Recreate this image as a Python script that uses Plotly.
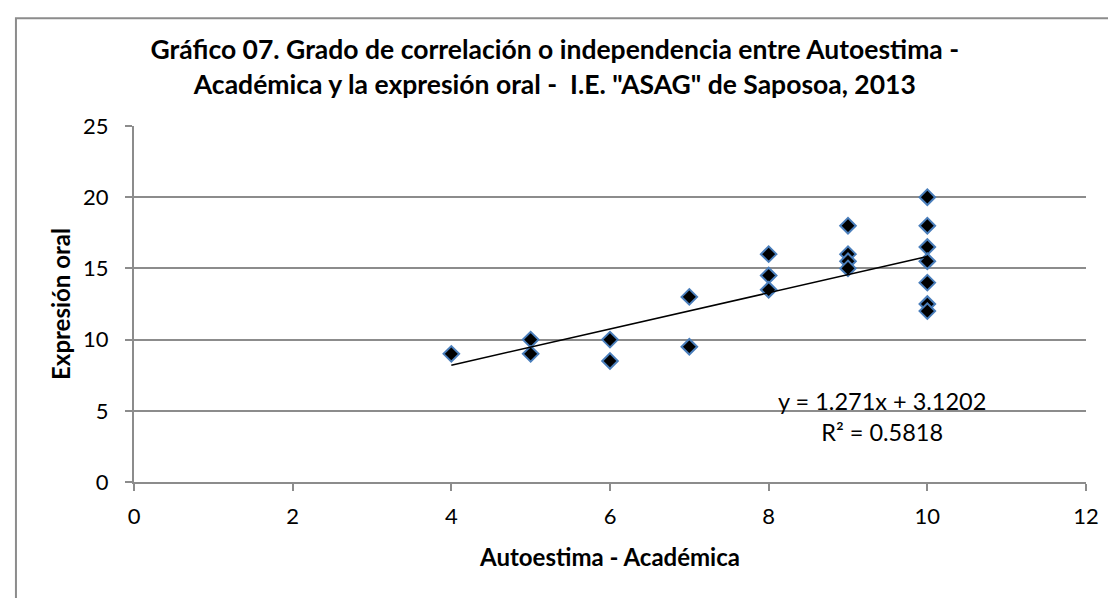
import plotly.graph_objects as go

# Data
autoestima = [4, 5, 5, 6, 6, 7, 7, 8, 8, 8, 9, 9, 9, 9, 10, 10, 10, 10, 10, 10, 10]
expresion = [9, 10, 9, 10, 8.5, 13, 9.5, 16, 14.5, 13.5, 18, 16, 15.5, 15, 20, 18, 16.5, 15.5, 14, 12.5, 12]
trend_slope = 1.271
trend_intercept = 3.1202
r_squared = 0.5818

title_text = ('Gráfico 07. Grado de correlación o independencia entre Autoestima -<br>'
              'Académica y la expresión oral -  I.E. "ASAG" de Saposoa, 2013')

x_min, x_max = min(autoestima), max(autoestima)
trend_x = [x_min, x_max]
trend_y = [trend_slope * v + trend_intercept for v in trend_x]

FONT = "Lato"
GRID = "#8c8c8c"

fig = go.Figure()
fig.add_trace(go.Scatter(
    x=autoestima, y=expresion, mode="markers",
    marker=dict(symbol="diamond", size=12, color="black",
                line=dict(color="#4A7EBB", width=2)),
    showlegend=False, hoverinfo="x+y"))
fig.add_trace(go.Scatter(
    x=trend_x, y=trend_y, mode="lines",
    line=dict(color="black", width=1.6), showlegend=False))

fig.update_layout(
    width=1116, height=598,
    paper_bgcolor="white", plot_bgcolor="white",
    margin=dict(l=126, r=38, t=118, b=124),
    font=dict(family=FONT, color="black", size=22),
    title=dict(text="<b>" + title_text + "</b>", x=0.490, xanchor="center",
               y=0.914, yanchor="middle",
               font=dict(family=FONT, size=26.5, color="black")),
    xaxis=dict(range=[0, 12], dtick=2, showgrid=False, zeroline=False,
               showline=True, linecolor=GRID, linewidth=2,
               ticks="outside", ticklen=7, tickcolor=GRID, tickwidth=2,
               ticklabelstandoff=7,
               tickfont=dict(size=22, family=FONT),
               title=dict(text="<b>Autoestima - Académica</b>", standoff=21,
                          font=dict(size=24, family=FONT))),
    yaxis=dict(range=[0, 25], dtick=5, showgrid=True, gridcolor=GRID, gridwidth=2,
               zeroline=False, showline=True, linecolor=GRID, linewidth=2,
               ticks="outside", ticklen=7, tickcolor=GRID, tickwidth=2,
               ticklabelstandoff=12,
               tickfont=dict(size=22, family=FONT),
               title=dict(text="<b>Expresión oral</b>", standoff=6,
                          font=dict(size=24, family=FONT))),
)

# Trendline equation label
fig.add_annotation(x=9.43, y=4.6, xref="x", yref="y",
                   text=f"y = {trend_slope}x + {trend_intercept}<br>R² = {r_squared}",
                   showarrow=False, align="center",
                   font=dict(size=23.5, family=FONT, color="black"))

# Outer chart border (cropped on right and bottom)
fig.add_shape(type="rect", xref="paper", yref="paper",
              x0=-0.1240, x1=1.2, y0=-0.5, y1=1.303,
              line=dict(color="#8c8c8c", width=2), layer="below")

fig.write_html("out.html")
